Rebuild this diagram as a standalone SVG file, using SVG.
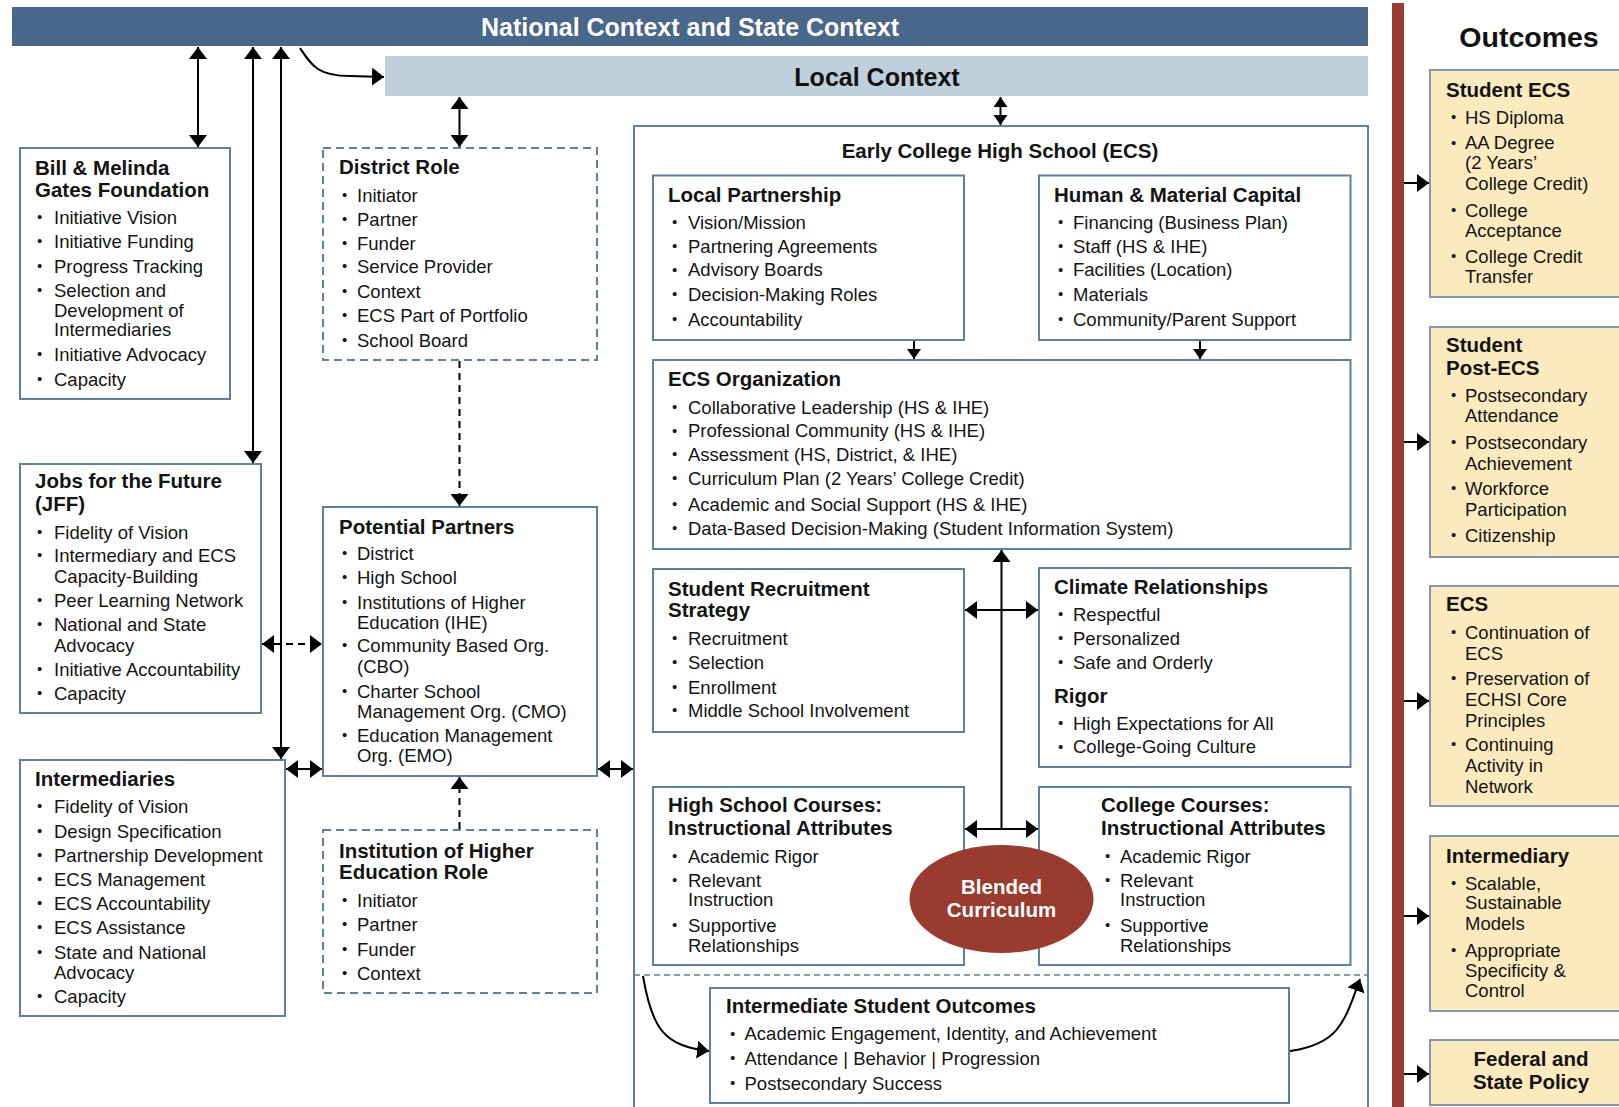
<svg xmlns="http://www.w3.org/2000/svg" width="1619" height="1107" viewBox="0 0 1619 1107">
<defs>
<style>
.box{fill:#fff;stroke:#5F7FA3;stroke-width:2}
.dbox{fill:#fff;stroke:#5F7FA3;stroke-width:2;stroke-dasharray:8 5}
.obox{fill:#FBEABD;stroke:#7F97B2;stroke-width:2}
.t{font-family:"Liberation Sans",Arial,sans-serif;font-weight:bold;font-size:20.5px;fill:#141414}
.i{font-family:"Liberation Sans",Arial,sans-serif;font-size:18.5px;fill:#141414}
.b{font-family:"Liberation Sans",Arial,sans-serif;font-size:15px;fill:#141414}
.ln{stroke:#000;stroke-width:2;fill:none}
.dl{stroke:#000;stroke-width:2;fill:none;stroke-dasharray:7 5}
.c{text-anchor:middle}
</style>
<marker id="ah" viewBox="0 0 12 18" refX="12" refY="9" markerWidth="12" markerHeight="18" markerUnits="userSpaceOnUse" orient="auto-start-reverse"><path d="M0,0 L12,9 L0,18 z" fill="#000"/></marker>
<marker id="as" viewBox="0 0 10 14" refX="10" refY="7" markerWidth="10" markerHeight="14" markerUnits="userSpaceOnUse" orient="auto-start-reverse"><path d="M0,0 L10,7 L0,14 z" fill="#000"/></marker>
</defs>
<rect width="1619" height="1107" fill="#fff"/>

<g id="national-context">
<rect x="12" y="7" width="1356" height="39" fill="#48678A"/>
<text x="690" y="36" class="c" style="font-family:'Liberation Sans',Arial,sans-serif;font-weight:bold;font-size:25px;fill:#fff">National Context and State Context</text>
</g>
<g id="local-context">
<rect x="385" y="56" width="983" height="40" fill="#BFD0DD"/>
<text x="877" y="86" class="c" style="font-family:'Liberation Sans',Arial,sans-serif;font-weight:bold;font-size:25px;fill:#111">Local Context</text>
</g>

<rect x="1392" y="3" width="12" height="1110" fill="#9A3B2F"/>
<text x="1529" y="47" class="c" style="font-family:'Liberation Sans',Arial,sans-serif;font-weight:bold;font-size:28.5px;fill:#111">Outcomes</text>

<g id="gates">
<rect class="box" x="20" y="148" width="210" height="251"/>
<text class="t" x="35" y="174.5">Bill &amp; Melinda</text>
<text class="t" x="35" y="196.5">Gates Foundation</text>
<text class="b" x="37" y="222">•</text><text class="i" x="54" y="223.5">Initiative Vision</text>
<text class="b" x="37" y="246">•</text><text class="i" x="54" y="247.5">Initiative Funding</text>
<text class="b" x="37" y="271">•</text><text class="i" x="54" y="272.5">Progress Tracking</text>
<text class="b" x="37" y="295">•</text><text class="i" x="54" y="296.5">Selection and</text>
<text class="i" x="54" y="316.5">Development of</text>
<text class="i" x="54" y="336">Intermediaries</text>
<text class="b" x="37" y="359">•</text><text class="i" x="54" y="360.5">Initiative Advocacy</text>
<text class="b" x="37" y="384">•</text><text class="i" x="54" y="385.5">Capacity</text>
</g>

<g id="jff">
<rect class="box" x="20" y="464" width="241" height="249"/>
<text class="t" x="35" y="488">Jobs for the Future</text>
<text class="t" x="35" y="511">(JFF)</text>
<text class="b" x="37" y="537">•</text><text class="i" x="54" y="538.5">Fidelity of Vision</text>
<text class="b" x="37" y="560">•</text><text class="i" x="54" y="561.5">Intermediary and ECS</text>
<text class="i" x="54" y="582.5">Capacity-Building</text>
<text class="b" x="37" y="605">•</text><text class="i" x="54" y="606.5">Peer Learning Network</text>
<text class="b" x="37" y="629">•</text><text class="i" x="54" y="630.5">National and State</text>
<text class="i" x="54" y="651.5">Advocacy</text>
<text class="b" x="37" y="674">•</text><text class="i" x="54" y="675.5">Initiative Accountability</text>
<text class="b" x="37" y="698">•</text><text class="i" x="54" y="699.5">Capacity</text>
</g>

<g id="intermediaries">
<rect class="box" x="20" y="760" width="265" height="256"/>
<text class="t" x="35" y="786">Intermediaries</text>
<text class="b" x="37" y="811">•</text><text class="i" x="54" y="812.5">Fidelity of Vision</text>
<text class="b" x="37" y="836">•</text><text class="i" x="54" y="837.5">Design Specification</text>
<text class="b" x="37" y="860">•</text><text class="i" x="54" y="861.5">Partnership Development</text>
<text class="b" x="37" y="884">•</text><text class="i" x="54" y="885.5">ECS Management</text>
<text class="b" x="37" y="908">•</text><text class="i" x="54" y="909.5">ECS Accountability</text>
<text class="b" x="37" y="932">•</text><text class="i" x="54" y="933.5">ECS Assistance</text>
<text class="b" x="37" y="957">•</text><text class="i" x="54" y="958.5">State and National</text>
<text class="i" x="54" y="978.5">Advocacy</text>
<text class="b" x="37" y="1001">•</text><text class="i" x="54" y="1002.5">Capacity</text>
</g>

<g id="district-role">
<rect class="dbox" x="323" y="148" width="274" height="212"/>
<text class="t" x="339" y="174">District Role</text>
<text class="b" x="342" y="200">•</text><text class="i" x="357" y="201.5">Initiator</text>
<text class="b" x="342" y="224">•</text><text class="i" x="357" y="225.5">Partner</text>
<text class="b" x="342" y="248">•</text><text class="i" x="357" y="249.5">Funder</text>
<text class="b" x="342" y="271">•</text><text class="i" x="357" y="272.5">Service Provider</text>
<text class="b" x="342" y="296">•</text><text class="i" x="357" y="297.5">Context</text>
<text class="b" x="342" y="320">•</text><text class="i" x="357" y="321.5">ECS Part of Portfolio</text>
<text class="b" x="342" y="345">•</text><text class="i" x="357" y="346.5">School Board</text>
</g>

<g id="potential-partners">
<rect class="box" x="323" y="507" width="274" height="269"/>
<text class="t" x="339" y="534">Potential Partners</text>
<text class="b" x="342" y="558">•</text><text class="i" x="357" y="559.5">District</text>
<text class="b" x="342" y="582">•</text><text class="i" x="357" y="583.5">High School</text>
<text class="b" x="342" y="607">•</text><text class="i" x="357" y="608.5">Institutions of Higher</text>
<text class="i" x="357" y="628.5">Education (IHE)</text>
<text class="b" x="342" y="650">•</text><text class="i" x="357" y="651.5">Community Based Org.</text>
<text class="i" x="357" y="672.5">(CBO)</text>
<text class="b" x="342" y="696">•</text><text class="i" x="357" y="697.5">Charter School</text>
<text class="i" x="357" y="717.5">Management Org. (CMO)</text>
<text class="b" x="342" y="740">•</text><text class="i" x="357" y="741.5">Education Management</text>
<text class="i" x="357" y="761.5">Org. (EMO)</text>
</g>

<g id="ihe-role">
<rect class="dbox" x="323" y="830" width="274" height="163"/>
<text class="t" x="339" y="858">Institution of Higher</text>
<text class="t" x="339" y="879">Education Role</text>
<text class="b" x="342" y="905">•</text><text class="i" x="357" y="906.5">Initiator</text>
<text class="b" x="342" y="929">•</text><text class="i" x="357" y="930.5">Partner</text>
<text class="b" x="342" y="954">•</text><text class="i" x="357" y="955.5">Funder</text>
<text class="b" x="342" y="978">•</text><text class="i" x="357" y="979.5">Context</text>
</g>

<g id="ecs">
<rect class="box" x="634" y="126" width="734" height="1000"/>
<text class="t c" x="1000" y="158">Early College High School (ECS)</text>
<line x1="634" y1="975" x2="1368" y2="975" stroke="#5F7FA3" stroke-width="1.5" stroke-dasharray="6 4"/>
</g>

<g id="local-partnership">
<rect class="box" x="653" y="175.5" width="311" height="164.5"/>
<text class="t" x="668" y="202">Local Partnership</text>
<text class="b" x="672" y="227">•</text><text class="i" x="688" y="228.5">Vision/Mission</text>
<text class="b" x="672" y="251">•</text><text class="i" x="688" y="252.5">Partnering Agreements</text>
<text class="b" x="672" y="274.5">•</text><text class="i" x="688" y="276">Advisory Boards</text>
<text class="b" x="672" y="299">•</text><text class="i" x="688" y="300.5">Decision-Making Roles</text>
<text class="b" x="672" y="324">•</text><text class="i" x="688" y="325.5">Accountability</text>
</g>

<g id="human-material-capital">
<rect class="box" x="1039" y="175.5" width="311.5" height="164.5"/>
<text class="t" x="1054" y="202">Human &amp; Material Capital</text>
<text class="b" x="1058" y="227">•</text><text class="i" x="1073" y="228.5">Financing (Business Plan)</text>
<text class="b" x="1058" y="251">•</text><text class="i" x="1073" y="252.5">Staff (HS &amp; IHE)</text>
<text class="b" x="1058" y="274.5">•</text><text class="i" x="1073" y="276">Facilities (Location)</text>
<text class="b" x="1058" y="299">•</text><text class="i" x="1073" y="300.5">Materials</text>
<text class="b" x="1058" y="324">•</text><text class="i" x="1073" y="325.5">Community/Parent Support</text>
</g>

<g id="ecs-organization">
<rect class="box" x="653" y="360" width="697.5" height="189"/>
<text class="t" x="668" y="386">ECS Organization</text>
<text class="b" x="672" y="412">•</text><text class="i" x="688" y="413.5">Collaborative Leadership (HS &amp; IHE)</text>
<text class="b" x="672" y="435.5">•</text><text class="i" x="688" y="437">Professional Community (HS &amp; IHE)</text>
<text class="b" x="672" y="459">•</text><text class="i" x="688" y="460.5">Assessment (HS, District, &amp; IHE)</text>
<text class="b" x="672" y="483">•</text><text class="i" x="688" y="484.5">Curriculum Plan (2 Years’ College Credit)</text>
<text class="b" x="672" y="509">•</text><text class="i" x="688" y="510.5">Academic and Social Support (HS &amp; IHE)</text>
<text class="b" x="672" y="533">•</text><text class="i" x="688" y="534.5">Data-Based Decision-Making (Student Information System)</text>
</g>

<g id="student-recruitment">
<rect class="box" x="653" y="569" width="311" height="163"/>
<text class="t" x="668" y="595.5">Student Recruitment</text>
<text class="t" x="668" y="617">Strategy</text>
<text class="b" x="672" y="643">•</text><text class="i" x="688" y="644.5">Recruitment</text>
<text class="b" x="672" y="667">•</text><text class="i" x="688" y="668.5">Selection</text>
<text class="b" x="672" y="692">•</text><text class="i" x="688" y="693.5">Enrollment</text>
<text class="b" x="672" y="715">•</text><text class="i" x="688" y="716.5">Middle School Involvement</text>
</g>

<g id="climate-rigor">
<rect class="box" x="1039" y="568" width="311.5" height="199"/>
<text class="t" x="1054" y="593.5">Climate Relationships</text>
<text class="b" x="1058" y="619">•</text><text class="i" x="1073" y="620.5">Respectful</text>
<text class="b" x="1058" y="643">•</text><text class="i" x="1073" y="644.5">Personalized</text>
<text class="b" x="1058" y="667">•</text><text class="i" x="1073" y="668.5">Safe and Orderly</text>
<text class="t" x="1054" y="703">Rigor</text>
<text class="b" x="1058" y="728">•</text><text class="i" x="1073" y="729.5">High Expectations for All</text>
<text class="b" x="1058" y="751.5">•</text><text class="i" x="1073" y="753">College-Going Culture</text>
</g>

<g id="hs-courses">
<rect class="box" x="653" y="787" width="311" height="178"/>
<text class="t" x="668" y="812">High School Courses:</text>
<text class="t" x="668" y="835">Instructional Attributes</text>
<text class="b" x="672" y="861">•</text><text class="i" x="688" y="862.5">Academic Rigor</text>
<text class="b" x="672" y="885">•</text><text class="i" x="688" y="886.5">Relevant</text>
<text class="i" x="688" y="905.5">Instruction</text>
<text class="b" x="672" y="930">•</text><text class="i" x="688" y="931.5">Supportive</text>
<text class="i" x="688" y="951.5">Relationships</text>
</g>

<g id="college-courses">
<rect class="box" x="1039" y="787" width="311.5" height="178"/>
<text class="t" x="1101" y="812">College Courses:</text>
<text class="t" x="1101" y="835">Instructional Attributes</text>
<text class="b" x="1105" y="861">•</text><text class="i" x="1120" y="862.5">Academic Rigor</text>
<text class="b" x="1105" y="885">•</text><text class="i" x="1120" y="886.5">Relevant</text>
<text class="i" x="1120" y="905.5">Instruction</text>
<text class="b" x="1105" y="930">•</text><text class="i" x="1120" y="931.5">Supportive</text>
<text class="i" x="1120" y="951.5">Relationships</text>
</g>

<g id="blended-curriculum">
<ellipse cx="1001.5" cy="899" rx="92" ry="54" fill="#9A3B2F"/>
<text class="t c" x="1001.5" y="894" style="fill:#fff">Blended</text>
<text class="t c" x="1001.5" y="917" style="fill:#fff">Curriculum</text>
</g>

<g id="intermediate-outcomes">
<rect class="box" x="710" y="988" width="579" height="115"/>
<text class="t" x="726" y="1013">Intermediate Student Outcomes</text>
<text class="b" x="730" y="1038.5">•</text><text class="i" x="744.5" y="1040">Academic Engagement, Identity, and Achievement</text>
<text class="b" x="730" y="1063">•</text><text class="i" x="744.5" y="1064.5">Attendance | Behavior | Progression</text>
<text class="b" x="730" y="1088">•</text><text class="i" x="744.5" y="1089.5">Postsecondary Success</text>
</g>

<g id="outcome-student-ecs">
<rect class="obox" x="1430" y="70" width="200" height="227"/>
<text class="t" x="1446" y="97">Student ECS</text>
<text class="b" x="1451" y="122">•</text><text class="i" x="1465" y="123.5">HS Diploma</text>
<text class="b" x="1451" y="147.5">•</text><text class="i" x="1465" y="149">AA Degree</text>
<text class="i" x="1465" y="168.5">(2 Years’</text>
<text class="i" x="1465" y="189.5">College Credit)</text>
<text class="b" x="1451" y="215">•</text><text class="i" x="1465" y="216.5">College</text>
<text class="i" x="1465" y="236.5">Acceptance</text>
<text class="b" x="1451" y="261">•</text><text class="i" x="1465" y="262.5">College Credit</text>
<text class="i" x="1465" y="282.5">Transfer</text>
</g>

<g id="outcome-student-post-ecs">
<rect class="obox" x="1430" y="327" width="200" height="230"/>
<text class="t" x="1446" y="352">Student</text>
<text class="t" x="1446" y="375">Post-ECS</text>
<text class="b" x="1451" y="400">•</text><text class="i" x="1465" y="401.5">Postsecondary</text>
<text class="i" x="1465" y="421.5">Attendance</text>
<text class="b" x="1451" y="447">•</text><text class="i" x="1465" y="448.5">Postsecondary</text>
<text class="i" x="1465" y="469.5">Achievement</text>
<text class="b" x="1451" y="493">•</text><text class="i" x="1465" y="494.5">Workforce</text>
<text class="i" x="1465" y="515.5">Participation</text>
<text class="b" x="1451" y="540">•</text><text class="i" x="1465" y="541.5">Citizenship</text>
</g>

<g id="outcome-ecs">
<rect class="obox" x="1430" y="586" width="200" height="220"/>
<text class="t" x="1446" y="611">ECS</text>
<text class="b" x="1451" y="637">•</text><text class="i" x="1465" y="638.5">Continuation of</text>
<text class="i" x="1465" y="659.5">ECS</text>
<text class="b" x="1451" y="683">•</text><text class="i" x="1465" y="684.5">Preservation of</text>
<text class="i" x="1465" y="705.5">ECHSI Core</text>
<text class="i" x="1465" y="726.5">Principles</text>
<text class="b" x="1451" y="749">•</text><text class="i" x="1465" y="750.5">Continuing</text>
<text class="i" x="1465" y="771.5">Activity in</text>
<text class="i" x="1465" y="792.5">Network</text>
</g>

<g id="outcome-intermediary">
<rect class="obox" x="1430" y="836" width="200" height="175"/>
<text class="t" x="1446" y="863">Intermediary</text>
<text class="b" x="1451" y="888">•</text><text class="i" x="1465" y="889.5">Scalable,</text>
<text class="i" x="1465" y="908.5">Sustainable</text>
<text class="i" x="1465" y="929.5">Models</text>
<text class="b" x="1451" y="955">•</text><text class="i" x="1465" y="956.5">Appropriate</text>
<text class="i" x="1465" y="976.5">Specificity &amp;</text>
<text class="i" x="1465" y="996.5">Control</text>
</g>

<g id="outcome-policy">
<rect class="obox" x="1430" y="1040" width="200" height="65"/>
<text class="t c" x="1531" y="1066">Federal and</text>
<text class="t c" x="1531" y="1089">State Policy</text>
</g>

<g id="connectors">
<line class="ln" x1="198" y1="47" x2="198" y2="147" marker-start="url(#ah)" marker-end="url(#ah)"/>
<line class="ln" x1="253" y1="47" x2="253" y2="463" marker-start="url(#ah)" marker-end="url(#ah)"/>
<line class="ln" x1="281" y1="47" x2="281" y2="759" marker-start="url(#ah)" marker-end="url(#ah)"/>
<path class="ln" d="M300,48 C312,66 318,76 350,76 L384,77" marker-end="url(#ah)"/>
<line class="ln" x1="459.5" y1="97" x2="459.5" y2="147" marker-start="url(#ah)" marker-end="url(#ah)"/>
<line class="dl" x1="459.5" y1="361" x2="459.5" y2="506" marker-end="url(#ah)"/>
<line class="dl" x1="459.5" y1="829" x2="459.5" y2="777" marker-end="url(#ah)"/>
<line class="dl" x1="262" y1="644" x2="322" y2="644" marker-start="url(#ah)" marker-end="url(#ah)"/>
<line class="ln" x1="286" y1="769" x2="322" y2="769" marker-start="url(#ah)" marker-end="url(#ah)"/>
<line class="ln" x1="598" y1="769" x2="633" y2="769" marker-start="url(#ah)" marker-end="url(#ah)"/>
<line class="ln" x1="1000.5" y1="97" x2="1000.5" y2="125" marker-start="url(#as)" marker-end="url(#as)"/>
<line class="ln" x1="914" y1="341" x2="914" y2="359" marker-end="url(#as)"/>
<line class="ln" x1="1200" y1="341" x2="1200" y2="359" marker-end="url(#as)"/>
<line class="ln" x1="1001.5" y1="829" x2="1001.5" y2="550" marker-end="url(#ah)"/>
<line class="ln" x1="965" y1="610" x2="1038" y2="610" marker-start="url(#ah)" marker-end="url(#ah)"/>
<line class="ln" x1="965" y1="829" x2="1038" y2="829" marker-start="url(#ah)" marker-end="url(#ah)"/>
<path class="ln" d="M643,976 C652,1030 665,1046 709,1051" marker-end="url(#ah)"/>
<path class="ln" d="M1290,1051 C1338,1044 1344,1024 1360,979" marker-end="url(#ah)"/>
<line class="ln" x1="1404" y1="183" x2="1429" y2="183" marker-end="url(#ah)"/>
<line class="ln" x1="1404" y1="442" x2="1429" y2="442" marker-end="url(#ah)"/>
<line class="ln" x1="1404" y1="701" x2="1429" y2="701" marker-end="url(#ah)"/>
<line class="ln" x1="1404" y1="916" x2="1429" y2="916" marker-end="url(#ah)"/>
<line class="ln" x1="1404" y1="1074" x2="1429" y2="1074" marker-end="url(#ah)"/>
</g>
</svg>
